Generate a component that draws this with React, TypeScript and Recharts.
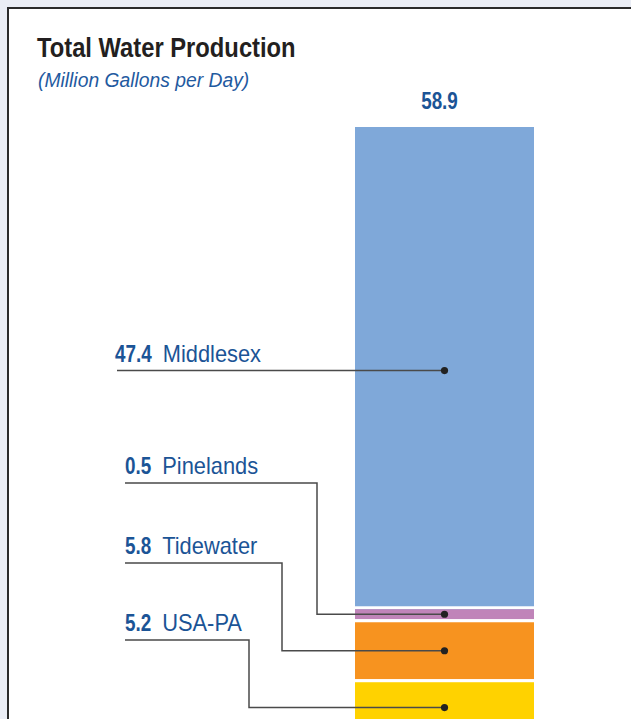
import { BarChart, Bar, XAxis, YAxis, LabelList } from 'recharts';

// data
const categories = ['Middlesex', 'Pinelands', 'Tidewater', 'USA-PA'];
const values = [47.4, 0.5, 5.8, 5.2];
const colors = ['#7fa8d9', '#c084b9', '#f7931f', '#ffd200'];
const totalLabel = '58.9';

// leader layout (label line y / elbow x); null = straight line to the dot
const leaderY = [null, 483, 563, 640];
const elbowX = [null, 317, 282, 249];
const labelX = [115, 125, 125, 125];

const chartData = [
     categories.reduce((row: Record<string, any>, c, i) => ({ ...row, [c]: values[i] }), { name: 'Total' }),
];
const total = values.reduce((a, b) => a + b, 0);

const GAP = 3;
const MIN_H = 10;
const BLUE_TEXT = '#1b5496';
const FONT = '"Liberation Sans", Arial, sans-serif';
// no condensed face installed: squeeze Liberation Sans horizontally instead
const NARROW = 0.82;
const NUM_SIZE = 23;

// rough width of a bold number in Liberation Sans (digits .556em, dot .278em)
function numWidth(s: string) {
     let w = 0;
     for (const ch of s) w += ch === '.' ? 0.278 : 0.556;
     return w * NUM_SIZE * NARROW;
}

function segment(y: number, h: number) {
     let top = y + GAP;
     const bottom = y + h;
     if (bottom - top < MIN_H) top = bottom - MIN_H;
     return { top, bottom };
}

function Segment(props: any) {
     const { x, y, width, height, fill } = props;
     const { top, bottom } = segment(y, height);
     return (
          <g>
               <rect x={x} y={top - GAP} width={width} height={GAP} fill="#fff" />
               <rect x={x} y={top} width={width} height={bottom - top} fill={fill} />
          </g>
     );
}

function Leader(props: any, i: number) {
     const vb = props.viewBox ?? props;
     const { x, y, width, height } = vb;
     const { top, bottom } = segment(y, height);
     const dx = x + width / 2;
     const dy = (top + bottom) / 2;
     const ly = leaderY[i] ?? dy;
     const lx = labelX[i];
     const num = values[i].toFixed(1);
     const d =
          elbowX[i] == null
               ? `M${lx + 2},${ly} H${dx}`
               : `M${lx},${ly} H${elbowX[i]} V${dy} H${dx}`;
     return (
          <g>
               <path d={d} fill="none" stroke="#4a4a4a" strokeWidth={1.5} />
               <circle cx={dx} cy={dy} r={3.6} fill="#222" />
               <text
                    transform={`translate(${lx},${ly - 9}) scale(${NARROW},1)`}
                    fill={BLUE_TEXT}
                    fontFamily={FONT}
                    fontWeight="bold"
                    fontSize={NUM_SIZE}
               >
                    {num}
               </text>
               <text
                    transform={`translate(${lx + numWidth(num) + 11},${ly - 9}) scale(0.95,1)`}
                    fill={BLUE_TEXT}
                    fontFamily={FONT}
                    fontSize={23}
               >
                    {categories[i]}
               </text>
          </g>
     );
}

function TotalLabel(props: any) {
     const vb = props.viewBox ?? props;
     const { x, y, width } = vb;
     return (
          <text
               transform={`translate(${x + width / 2 - 5},${y - 15}) scale(${NARROW},1)`}
               textAnchor="middle"
               fill={BLUE_TEXT}
               fontFamily={FONT}
               fontWeight="bold"
               fontSize={NUM_SIZE}
          >
               {totalLabel}
          </text>
     );
}

export default function App() {
     return (
          <div
               style={{
                    position: 'fixed',
                    left: 0,
                    top: 0,
                    width: 631,
                    height: 719,
                    overflow: 'hidden',
                    background: '#eaedf5',
               }}
          >
               <div
                    style={{
                         position: 'absolute',
                         left: 7,
                         top: 7,
                         width: 700,
                         height: 800,
                         background: '#fff',
                         borderLeft: '2px solid #2a2a2a',
                         borderTop: '2px solid #2a2a2a',
                    }}
               />
               <svg width={631} height={110} style={{ position: 'absolute', left: 0, top: 0 }}>
                    <text
                         transform="translate(37,57) scale(0.88,1)"
                         fill="#231f20"
                         fontFamily={FONT}
                         fontWeight="bold"
                         fontSize={27}
                    >
                         Total Water Production
                    </text>
                    <text
                         transform="translate(38,87) scale(0.92,1)"
                         fill="#1f5aa0"
                         fontFamily={FONT}
                         fontStyle="italic"
                         fontSize={21}
                    >
                         (Million Gallons per Day)
                    </text>
               </svg>
               <div style={{ position: 'absolute', left: 0, top: 0 }}>
                    <BarChart
                         width={631}
                         height={760}
                         data={chartData}
                         margin={{ top: 124, right: 97, bottom: 27, left: 355 }}
                         barCategoryGap="0%"
                         reverseStackOrder
                    >
                         <XAxis dataKey="name" hide />
                         <YAxis type="number" domain={[0, total]} hide />
                         {categories.map((c, i) => (
                              <Bar
                                   key={c}
                                   dataKey={c}
                                   stackId="total"
                                   fill={colors[i]}
                                   shape={Segment}
                                   isAnimationActive={false}
                              >
                                   <LabelList dataKey={c} content={(p: any) => Leader(p, i)} />
                                   {i === 0 && <LabelList dataKey={c} content={TotalLabel} />}
                              </Bar>
                         ))}
                    </BarChart>
               </div>
          </div>
     );
}
